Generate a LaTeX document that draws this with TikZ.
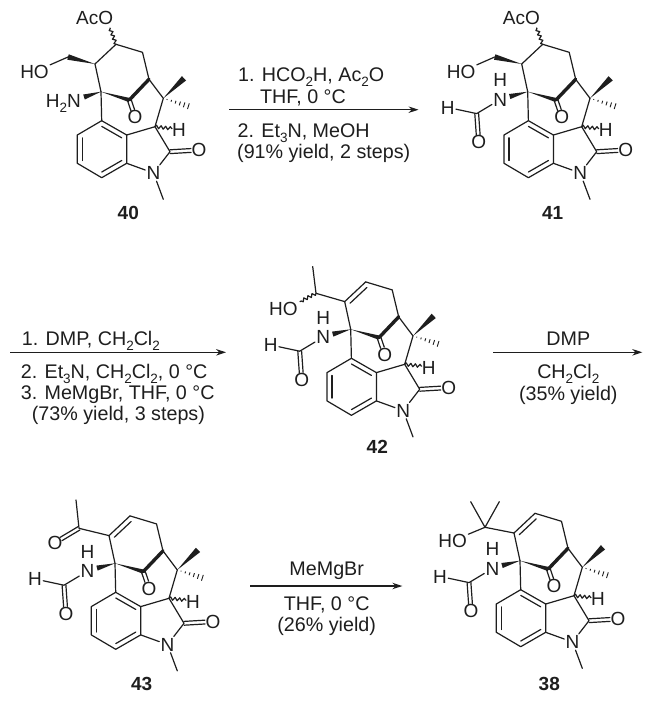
\documentclass[tikz,border=0pt]{standalone}
\usepackage{fontspec}
\setmainfont{Liberation Sans}
\usetikzlibrary{calc,arrows.meta,decorations.pathmorphing}
\definecolor{ink}{HTML}{1E1E1E}
\newcommand\chemfont{\fontsize{19}{21}\selectfont}
\newcommand\reagfont{\fontsize{19.7}{21}\selectfont}
\newcommand\sbt[1]{\smash{\raisebox{-0.25em}{\fontsize{13.5}{14}\selectfont #1}}}
\tikzset{
  bond/.style={draw=ink,line width=1.2pt,line cap=round,line join=round},
  boldbond/.style={draw=ink,line width=3.4pt,line cap=round},
  wavy/.style={bond,decorate,decoration={snake,segment length=4.6pt,amplitude=1.6pt}},
  atom/.style={font=\chemfont,text=ink,text height=13.5pt,text depth=0pt,inner sep=1.2pt},
  cmpd/.style={font=\chemfont\bfseries,text=ink,anchor=base,inner sep=0pt},
  reag/.style={font=\reagfont,text=ink,anchor=base,inner sep=0pt},
  reagl/.style={reag,anchor=base west},
  rxn/.style={draw=ink,line width=1.1pt,-{Stealth[length=10pt,width=6.5pt]}},
}
\newcommand\wedgeb[3]{\fill[ink] (#1) -- ($(#2)!#3!90:(#1)$) -- ($(#2)!#3!-90:(#1)$) -- cycle;}
\newcommand\hashb[3]{\foreach \t in {0.14,0.3,0.46,0.62,0.78,0.94}{%
  \pgfmathsetmacro\h{\t*#3}%
  \draw[draw=ink,line width=0.9pt] ($(#1)!\t!(#2)!\h pt!90:(#2)$) -- ($(#1)!\t!(#2)!\h pt!-90:(#2)$);}}
\newcommand\dbond[3]{%
  \draw[bond,shorten >=#3] ($(#1)!1.9pt!90:(#2)$) -- ($(#2)!1.9pt!-90:(#1)$);
  \draw[bond,shorten >=#3] ($(#1)!1.9pt!-90:(#2)$) -- ($(#2)!1.9pt!90:(#1)$);}
\newcommand\innerb[3]{\draw[bond] ($(#1)!0.2!(#3)$) -- ($(#2)!0.2!(#3)$);}
% polycyclic core shared by all five compounds
\newcommand\core[1]{%
  \coordinate (#1ca) at (101,91.7);
  \coordinate (#1cb) at (129.3,100);
  \coordinate (#1cc) at (149,79.3);
  \coordinate (#1cd) at (163.3,98.3);
  \coordinate (#1ce) at (155,126.7);
  \coordinate (#1cf) at (170,151.7);
  \coordinate (#1c3a) at (126.7,135);
  \coordinate (#1c7a) at (126.7,163.3);
  \coordinate (#1c4) at (101.7,120.7);
  \coordinate (#1c5) at (77.3,135);
  \coordinate (#1c6) at (77.3,163.3);
  \coordinate (#1c7) at (101.7,177.7);
  \coordinate (#1bc) at (102,149.2);
  \coordinate (#1r1) at (95,64);
  \coordinate (#1r2) at (116,44.3);
  \coordinate (#1r3) at (142.5,52.3);
  \coordinate (#1rc) at (122,72);
  \coordinate (#1me) at (163.3,199.3);
  \coordinate (#1mw) at (184,78.3);
  \coordinate (#1mh) at (190,106.7);
  \coordinate (#1hw) at (172,128.5);
  \node[atom] (#1n) at (153.5,173) {N};
  \node[atom] (#1ol) at (199,150) {O};
  \node[atom] (#1ok) at (135,116.7) {O};
  \node[atom] (#1h) at (179,130) {H};
  \draw[bond] (#1c4) -- (#1c3a) -- (#1c7a) -- (#1c7) -- (#1c6) -- (#1c5) -- cycle;
  \innerb{#1c4}{#1c3a}{#1bc}
  \innerb{#1c5}{#1c6}{#1bc}
  \innerb{#1c7}{#1c7a}{#1bc}
  \draw[bond] (#1c3a) -- (#1ce) -- (#1cf) -- (#1n) -- (#1c7a);
  \draw[bond] (#1n) -- (#1me);
  \draw[bond] (#1ce) -- (#1cd) -- (#1cc);
  \draw[bond] (#1ca) -- (#1c4);
  \draw[bond] (#1ca) -- (#1r1);
  \draw[bond] (#1r2) -- (#1r3) -- (#1cc);
  \draw[bond] (#1r1) -- (#1r2);
  \wedgeb{#1ca}{#1cb}{2.1pt}
  \draw[boldbond] (#1cb) -- (#1cc);
  \wedgeb{#1cd}{#1mw}{3pt}
  \hashb{#1cd}{#1mh}{3.2}
  \dbond{#1cb}{#1ok}{7pt}
  \dbond{#1cf}{#1ol}{8pt}
  \draw[wavy] (#1ce) -- (#1hw);
}
% NH-CHO group
\newcommand\formamide[1]{%
  \node[atom] (#1fn) at (73.5,99.5) {N};
  \node[atom] (#1fnh) at (73.5,80) {H};
  \coordinate (#1fw) at (83,96.5);
  \coordinate (#1fc) at (50,113.6);
  \node[atom] (#1fh) at (21,107.4) {H};
  \node[atom] (#1fo) at (52,142) {O};
  \wedgeb{#1ca}{#1fw}{2.6pt}
  \draw[bond] (#1fn) -- (#1fc) -- (#1fh);
  \dbond{#1fc}{#1fo}{7pt}
}
% acetoxy and hydroxymethyl groups of 40 and 41
\newcommand\upper[1]{%
  \node[atom] (#1ac) at (94.7,18) {AcO};
  \coordinate (#1acw) at (110,28);
  \draw[wavy] (#1r2) -- (#1acw);
  \coordinate (#1ch) at (68,57);
  \node[atom] (#1ho) at (34.5,71.7) {HO};
  \wedgeb{#1r1}{#1ch}{2.8pt}
  \draw[bond] (#1ch) -- (#1ho);
}
\begin{document}
\begin{tikzpicture}[x=1pt,y=-1pt]
\useasboundingbox (0,0) rectangle (654,702);
\fill[white] (0,0) rectangle (654,702);

% 40
\begin{scope}
  \core{a}
  \upper{a}
  \node[atom] (an2) at (63.4,100.5) {H\sbt{2}N};
  \coordinate (aw) at (84,97);
  \wedgeb{aca}{aw}{2.6pt}
\end{scope}
\node[cmpd] (l40) at (128.3,219.3) {40};

% 41
\begin{scope}[shift={(426.7,0)}]
  \core{b}
  \upper{b}
  \formamide{b}
\end{scope}
\node[cmpd] (l41) at (552.7,219.3) {41};

% 42
\begin{scope}[shift={(249.7,237.6)}]
  \core{c}
  \formamide{c}
  \innerb{cr1}{cr2}{crc}
  \coordinate (cch) at (66.3,55.7);
  \coordinate (cme) at (63,29);
  \coordinate (cwv) at (50.3,64);
  \node[atom] (cho) at (33.6,71.4) {HO};
  \draw[bond] (cr1) -- (cch) -- (cme);
  \draw[wavy] (cch) -- (cwv);
\end{scope}
\node[cmpd] (l42) at (377.3,453.3) {42};

% 43
\begin{scope}[shift={(14,471.6)}]
  \core{d}
  \formamide{d}
  \innerb{dr1}{dr2}{drc}
  \coordinate (dcc) at (65,56.7);
  \coordinate (dme) at (62,28.4);
  \node[atom] (dox) at (41,71) {O};
  \draw[bond] (dr1) -- (dcc) -- (dme);
  \dbond{dcc}{dox}{7pt}
\end{scope}
\node[cmpd] (l43) at (141.7,690) {43};

% 38
\begin{scope}[shift={(419,469)}]
  \core{e}
  \formamide{e}
  \innerb{er1}{er2}{erc}
  \coordinate (ecq) at (66,58.3);
  \coordinate (em1) at (51.7,32.7);
  \coordinate (em2) at (80.3,32.7);
  \node[atom] (eho) at (33.7,71.7) {HO};
  \draw[bond] (er1) -- (ecq) -- (em1);
  \draw[bond] (ecq) -- (em2);
  \draw[bond] (ecq) -- (eho);
\end{scope}
\node[cmpd] (l38) at (549.3,690) {38};

% reaction 1
\coordinate (r1s) at (229.3,109.7);
\coordinate (r1e) at (418.5,109.7);
\draw[rxn] (r1s) -- (r1e);
\node[reagl] (t11) at (238,81.7) {1. HCO\sbt{2}H, Ac\sbt{2}O};
\node[reag] (t12) at (303,103.3) {THF, 0 °C};
\node[reagl] (t13) at (237.5,137.7) {2. Et\sbt{3}N, MeOH};
\node[reagl] (t14) at (237,158) {(91\% yield, 2 steps)};

% reaction 2
\coordinate (r2s) at (10,352.3);
\coordinate (r2e) at (226,352.3);
\draw[rxn] (r2s) -- (r2e);
\node[reagl] (t21) at (21.7,345.7) {1. DMP, CH\sbt{2}Cl\sbt{2}};
\node[reagl] (t22) at (20.7,378.3) {2. Et\sbt{3}N, CH\sbt{2}Cl\sbt{2}, 0 °C};
\node[reagl] (t23) at (20.7,399.3) {3. MeMgBr, THF, 0 °C};
\node[reagl] (t24) at (31.7,420.7) {(73\% yield, 3 steps)};

% reaction 3
\coordinate (r3s) at (493.3,352.3);
\coordinate (r3e) at (642.3,352.3);
\draw[rxn] (r3s) -- (r3e);
\node[reag] (t31) at (568.3,345.7) {DMP};
\node[reag] (t32) at (568.3,378.3) {CH\sbt{2}Cl\sbt{2}};
\node[reag] (t33) at (568.3,400) {(35\% yield)};

% reaction 4
\coordinate (r4s) at (250,586);
\coordinate (r4e) at (402.3,586);
\draw[rxn] (r4s) -- (r4e);
\node[reag] (t41) at (326.7,575) {MeMgBr};
\node[reag] (t42) at (326.7,610) {THF, 0 °C};
\node[reag] (t43) at (326.7,631.7) {(26\% yield)};
\end{tikzpicture}
\end{document}
